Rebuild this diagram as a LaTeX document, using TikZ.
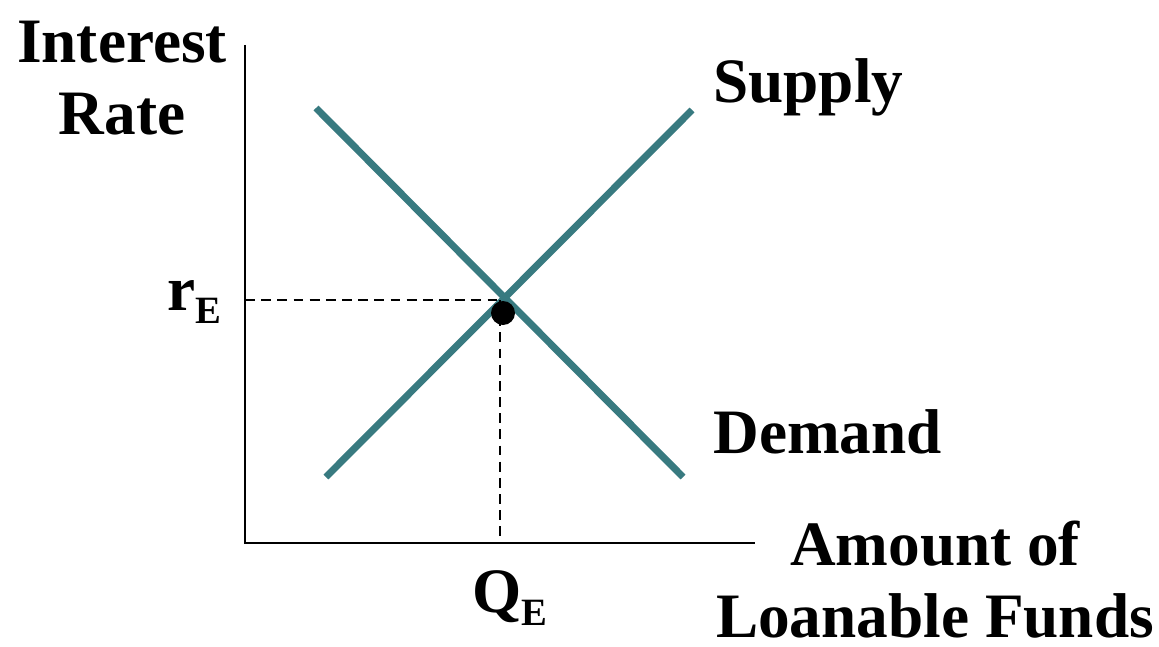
\documentclass[tikz,border=0pt]{standalone}
\usepackage{fontspec}
\setmainfont{Liberation Serif}
\usepackage{tikz}
\usetikzlibrary{positioning}
\definecolor{LFTeal}{RGB}{56,122,128}
\newcommand{\eqsub}[1]{\raisebox{-7.5pt}{\fontsize{22}{22}\selectfont #1}}

\begin{document}
\begin{tikzpicture}[
            lbl/.style={font=\fontsize{36}{41}\selectfont\bfseries, inner sep=0pt},
            curve/.style={LFTeal, line width=4pt},
            axis/.style={black, line width=1.3pt},
            guide/.style={black, line width=1pt, dash pattern=on 5.6pt off 3.6pt}
          ]
          \useasboundingbox (-4.9,-2.06) rectangle (18.28,10.86);

          % axes
          \coordinate (orig) at (0,0);
          \coordinate (ytop) at (0,9.96);
          \coordinate (xend) at (10.2,0);
          \draw[axis] (ytop) -- (orig) -- (xend);

          % supply and demand
          \coordinate (s0) at (1.62,1.32);
          \coordinate (s1) at (8.94,8.66);
          \coordinate (d0) at (1.42,8.70);
          \coordinate (d1) at (8.76,1.32);
          \draw[curve] (s0) -- (s1);
          \draw[curve] (d0) -- (d1);

          % equilibrium
          \coordinate (eq)   at (5.16,4.86);
          \coordinate (eqy)  at (0,4.86);
          \coordinate (eqv)  at (5.10,4.86);
          \coordinate (eqx)  at (5.10,0);
          \draw[guide] (eqy) -- (eq);
          \draw[guide] (eqv) -- (eqx);
          \node[circle, fill=black, inner sep=0pt, minimum size=0.48cm] (dot) at (5.16,4.60) {};

          % labels
          \node[lbl, align=center] (ylab) at (-2.46,9.30) {Interest\\Rate};
          \node[lbl, anchor=base west] (sup) at (9.36,8.82) {Supply};
          \node[lbl, anchor=base west] (dem) at (9.36,1.80) {Demand};
          \node[lbl, anchor=base east] (rE) at (-0.46,4.66) {r\eqsub{E}};
          \node[lbl, anchor=base] (qE) at (5.30,-1.38) {Q\eqsub{E}};
          \node[lbl, align=center] (xlab) at (13.80,-0.74) {Amount of\\Loanable Funds};
        \end{tikzpicture}
\end{document}
